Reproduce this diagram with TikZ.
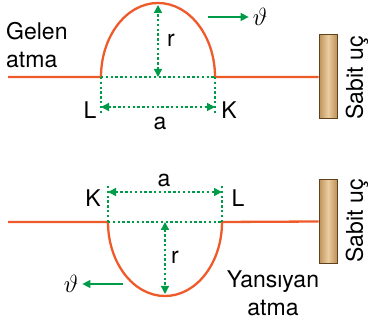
\documentclass[tikz,border=0pt]{standalone}
\usepackage{fontspec}
\setmainfont{TeX Gyre Heros}
\usetikzlibrary{arrows.meta, calc}
\definecolor{pulse}{RGB}{238,90,42}
\definecolor{dimgreen}{RGB}{0,155,72}
\definecolor{wallbrown}{RGB}{95,65,30}
\definecolor{walltan}{RGB}{190,145,90}
\definecolor{walllight}{RGB}{235,205,160}

\begin{document}
\begin{tikzpicture}[x=1pt, y=1pt, >={Triangle[length=8pt, width=8pt]}, every node/.style={font=\fontsize{23}{28}\selectfont, inner sep=0pt},
  wave/.style={draw=pulse, line width=2.3pt},
  dim/.style={draw=dimgreen, line width=1.4pt, dash pattern=on 2.4pt off 2.4pt},
  vel/.style={draw=dimgreen, line width=1.5pt, ->},
  wall/.style={draw=wallbrown, line width=1pt, left color=walltan, right color=walltan, middle color=walllight, minimum width=18pt, minimum height=84pt}]
  \useasboundingbox (0,0) rectangle (371,323);
  % gelen atma
  \node[wall] (wallA) at (328,246) {};
  \coordinate (startA) at (8,246);
  \coordinate (LA) at (101,246);
  \coordinate (KA) at (215,246);
  \draw[wave] (startA) -- (LA) arc[start angle=180, end angle=0, x radius=57, y radius=74] -- (wallA.west);
  \draw[dim] (LA) -- (KA);
  \draw[dim] (LA) -- ($(LA)+(0,-36)$) coordinate (LAb);
  \draw[dim] (KA) -- ($(KA)+(0,-36)$) coordinate (KAb);
  \draw[dim, <->] ($(LA)+(0,-30)$) -- ($(KA)+(0,-30)$);
  \draw[dim, <->] ($(LA)!0.5!(KA)$) -- ($(LA)!0.5!(KA)+(0,72)$);
  \node (lblLA) at (90,213) {L};
  \node (lblKA) at (229,213) {K};
  \node (lblaA) at (160,200) {a};
  \node (lblrA) at (171,283) {r};
  \node (velA) at (260,306) {$\vartheta$};
  \draw[vel] ($(velA.west)+(-45,0)$) -- ($(velA.west)+(-4,0)$);
  \node[align=left, anchor=west] (gelen) at (6,278) {Gelen\\atma};
  \node[rotate=90] (sabitA) at (357,245) {Sabit uç};
  % yansiyan atma
  \node[wall] (wallB) at (328,101.5) {};
  \coordinate (startB) at (8,101);
  \coordinate (KB) at (108,101);
  \coordinate (LB) at (222,101);
  \draw[wave] (startB) -- (KB) arc[start angle=180, end angle=360, x radius=57, y radius=74] -- (wallB.west);
  \draw[dim] (KB) -- (LB);
  \draw[dim] (KB) -- ($(KB)+(0,37)$) coordinate (KBt);
  \draw[dim] (LB) -- ($(LB)+(0,37)$) coordinate (LBt);
  \draw[dim, <->] ($(KB)+(0,30)$) -- ($(LB)+(0,30)$);
  \draw[dim, <->] ($(KB)!0.5!(LB)$) -- ($(KB)!0.5!(LB)+(0,-72)$);
  \node (lblKB) at (93,125) {K};
  \node (lblLB) at (238,125) {L};
  \node (lblaB) at (164,143) {a};
  \node (lblrB) at (175,66) {r};
  \node (velB) at (71,39) {$\vartheta$};
  \draw[vel] ($(velB.east)+(45,0)$) -- ($(velB.east)+(4,0)$);
  \node[align=center] (yansiyan) at (273,30) {Yansıyan\\atma};
  \node[rotate=90] (sabitB) at (357,102) {Sabit uç};
\end{tikzpicture}
\end{document}
